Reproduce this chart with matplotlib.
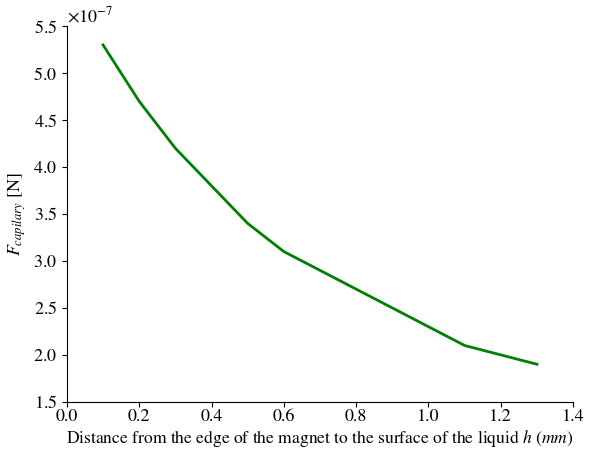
import matplotlib
matplotlib.use("Agg")
import matplotlib.pyplot as plt

h_mm = [0.1, 0.2, 0.3, 0.4, 0.5, 0.6, 1.1, 1.3]
f_cap = [5.3e-7, 4.7e-7, 4.2e-7, 3.8e-7, 3.4e-7, 3.1e-7, 2.1e-7, 1.9e-7]

plt.rcParams['font.family'] = 'STIXGeneral'
plt.rcParams['mathtext.fontset'] = 'stix'
plt.rcParams['font.size'] = 13

fig = plt.figure(figsize=(5.97, 4.51), dpi=100)
ax = fig.add_axes([0.112, 0.109, 0.848, 0.833])
ax.plot(h_mm, f_cap, color='green', linewidth=2)
ax.set_xlim(0.0, 1.4)
ax.set_ylim(1.5e-7, 5.5e-7)
ax.ticklabel_format(axis='y', style='sci', scilimits=(0, 0), useMathText=True)
ax.spines['top'].set_visible(False)
ax.spines['right'].set_visible(False)
ax.tick_params(axis='x', pad=2)
ax.set_xlabel(r'Distance from the edge of the magnet to the surface of the liquid $h$ $(mm)$',
              labelpad=2, fontsize=12.6)
ax.set_ylabel(r'$F_{capilary}$ [N]')
fig.savefig('out.png', dpi=100)
